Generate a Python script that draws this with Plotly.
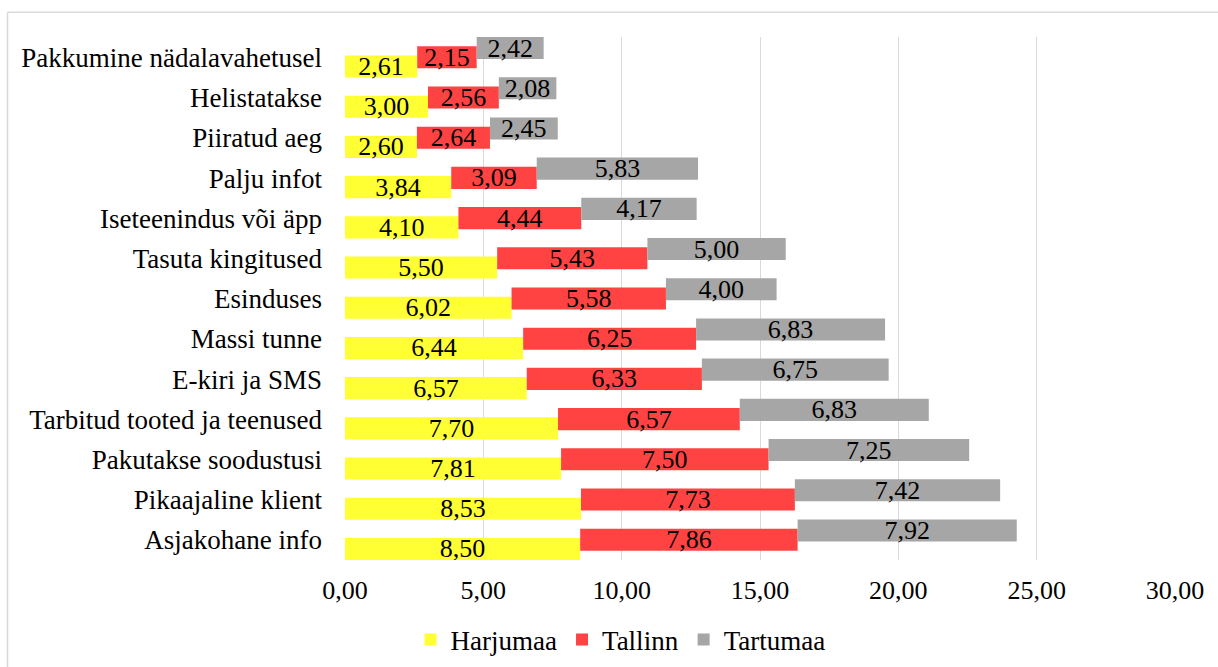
import numpy as np
import plotly.graph_objects as go

# Categories listed top-to-bottom as they appear on the chart
categories = [
    "Pakkumine nädalavahetusel",
    "Helistatakse",
    "Piiratud aeg",
    "Palju infot",
    "Iseteenindus või äpp",
    "Tasuta kingitused",
    "Esinduses",
    "Massi tunne",
    "E-kiri ja SMS",
    "Tarbitud tooted ja teenused",
    "Pakutakse soodustusi",
    "Pikaajaline klient",
    "Asjakohane info",
]
harjumaa = [2.61, 3.00, 2.60, 3.84, 4.10, 5.50, 6.02, 6.44, 6.57, 7.70, 7.81, 8.53, 8.50]
tallinn = [2.15, 2.56, 2.64, 3.09, 4.44, 5.43, 5.58, 6.25, 6.33, 6.57, 7.50, 7.73, 7.86]
tartumaa = [2.42, 2.08, 2.45, 5.83, 4.17, 5.00, 4.00, 6.83, 6.75, 6.83, 7.25, 7.42, 7.92]
x_ticks = [0, 5, 10, 15, 20, 25, 30]

# Bottom-to-top order for the category axis
cats = categories[::-1]
series = [
    ("Harjumaa", np.array(harjumaa[::-1]), "#FFFF33", -0.50),
    ("Tallinn", np.array(tallinn[::-1]), "#FF4343", -0.27),
    ("Tartumaa", np.array(tartumaa[::-1]), "#A6A6A6", -0.04),
]

FONT = "Liberation Serif"
fig = go.Figure()
base = np.zeros(len(cats))
for name, vals, color, off in series:
    fig.add_trace(go.Bar(
        y=cats, x=vals, base=base.copy(), orientation="h", name=name,
        marker=dict(color=color, line=dict(width=0)),
        offset=off, width=0.55,
        text=vals, texttemplate="%{text:.2f}", textposition="inside",
        insidetextanchor="middle", constraintext="none", textangle=0,
        textfont=dict(family=FONT, size=26, color="black"),
    ))
    base = base + vals

fig.update_layout(
    barmode="overlay",
    separators=", ",
    width=1218, height=667,
    margin=dict(l=345, r=43, t=37, b=107, autoexpand=False),
    paper_bgcolor="white", plot_bgcolor="white",
    font=dict(family=FONT, size=26, color="black"),
    xaxis=dict(range=[0, 30], tickvals=x_ticks, tickformat=".2f",
               showgrid=True, gridcolor="#D9D9D9", gridwidth=1.3,
               zeroline=False, showline=False, ticks="", automargin=False,
               ticklabelstandoff=12, tickfont=dict(family=FONT, size=26)),
    yaxis=dict(type="category", categoryorder="array", categoryarray=cats,
               range=[-0.5, 12.51], showgrid=False, zeroline=False,
               showline=False, ticks="", ticklabelstandoff=22, automargin=False,
               tickfont=dict(family=FONT, size=27)),
    legend=dict(orientation="h", x=0.079, xanchor="left", y=-0.153,
                yanchor="middle", font=dict(family=FONT, size=27), itemwidth=30,
                traceorder="normal", tracegroupgap=0),
    showlegend=True,
    shapes=[
        dict(type="line", xref="paper", yref="paper",
             x0=(7.5 - 345) / 830, x1=1.2, y0=(560 - 12) / 523.3, y1=(560 - 12) / 523.3,
             line=dict(color="#D9D9D9", width=1.5)),
        dict(type="line", xref="paper", yref="paper",
             x0=(7.5 - 345) / 830, x1=(7.5 - 345) / 830, y0=(560 - 12) / 523.3, y1=-0.3,
             line=dict(color="#D9D9D9", width=1.5)),
    ],
)

fig.write_html("out.html")
